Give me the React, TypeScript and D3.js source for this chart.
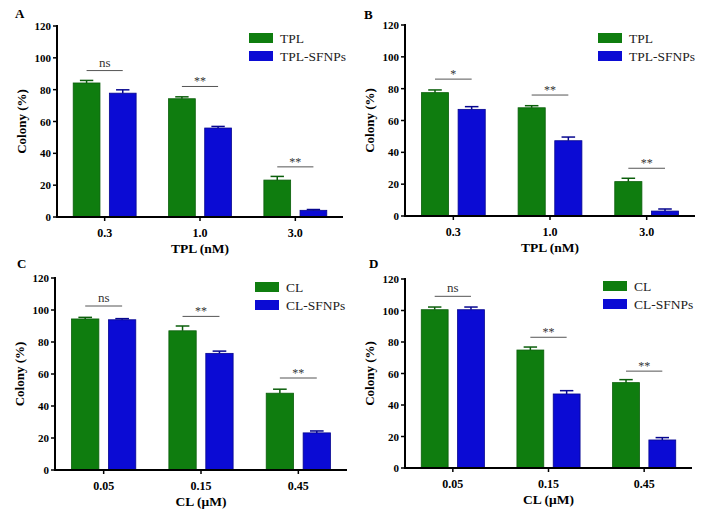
import React from "react";
import * as d3 from "d3";

// categories and series
const tplDoses = ["0.3", "1.0", "3.0"];
const clDoses = ["0.05", "0.15", "0.45"];
const yTicks = [0, 20, 40, 60, 80, 100, 120];

// panel A
const aFree = [84.2, 74.3, 23.2];
const aFreeErr = [1.6, 1.2, 2.3];
const aNano = [77.8, 55.9, 4.2];
const aNanoErr = [2.1, 1.0, 0.5];
const aSig = ["ns", "**", "**"];
const aSigY = [92, 82, 31.5];

// panel B
const bFree = [77.5, 68.0, 21.6];
const bFreeErr = [1.7, 1.3, 2.1];
const bNano = [67.0, 47.3, 3.1];
const bNanoErr = [1.7, 2.3, 1.3];
const bSig = ["*", "**", "**"];
const bSigY = [86, 76, 30];

// panel C
const cFree = [94.4, 87.0, 48.0];
const cFreeErr = [1.0, 3.0, 2.5];
const cNano = [93.9, 72.9, 23.2];
const cNanoErr = [0.7, 1.4, 1.2];
const cSig = ["ns", "**", "**"];
const cSigY = [102.5, 96, 57.5];

// panel D
const dFree = [100.5, 74.9, 54.2];
const dFreeErr = [1.7, 1.9, 1.9];
const dNano = [100.5, 47.0, 17.8];
const dNanoErr = [1.7, 2.1, 1.5];
const dSig = ["ns", "**", "**"];
const dSigY = [109, 83, 61.5];

const GREEN = "#0f7d0f";
const GREEN_DARK = "#0a5e0a";
const BLUE = "#0b0bd4";
const BLUE_DARK = "#06068f";
const FONT = "'Liberation Serif', 'Times New Roman', serif";

type PanelProps = {
  letter: string;
  cats: string[];
  free: number[];
  freeErr: number[];
  nano: number[];
  nanoErr: number[];
  sig: string[];
  sigY: number[];
  names: string[];
  xTitle: string;
  left: number;
  right: number;
  top: number;
  bottom: number;
  legendX: number;
  legendY: number;
  letterX: number;
  letterY: number;
};

const Panel = (props: PanelProps) => {
  const { cats, free, freeErr, nano, nanoErr, sig, sigY, names, left, right, top, bottom } = props;

  const y = d3.scaleLinear().domain([0, 120]).range([bottom, top]);
  const x0 = d3
    .scaleBand<string>()
    .domain(cats)
    .range([left, right])
    .paddingInner(0.34)
    .paddingOuter(0.17);
  const x1 = d3
    .scaleBand<string>()
    .domain(["free", "nano"])
    .range([0, x0.bandwidth()])
    .paddingInner(0.26);

  const series = [
    { key: "free", vals: free, errs: freeErr, fill: GREEN, dark: GREEN_DARK },
    { key: "nano", vals: nano, errs: nanoErr, fill: BLUE, dark: BLUE_DARK },
  ];

  return (
    <g fontFamily={FONT}>
      <text x={props.letterX} y={props.letterY} fontSize={13} fontWeight="bold">
        {props.letter}
      </text>

      {/* bars with upward error bars */}
      {series.map((s) =>
        cats.map((c, i) => {
          const bx = (x0(c) as number) + (x1(s.key) as number);
          const bw = x1.bandwidth();
          const cx = bx + bw / 2;
          const yTop = y(s.vals[i]);
          const yErr = y(s.vals[i] + s.errs[i]);
          return (
            <g key={s.key + c}>
              <rect
                x={bx}
                y={yTop}
                width={bw}
                height={y(0) - yTop}
                fill={s.fill}
                stroke={s.dark}
                strokeWidth={0.8}
              />
              <line x1={cx} x2={cx} y1={yTop} y2={yErr} stroke={s.dark} strokeWidth={1.5} />
              <line x1={cx - bw / 4} x2={cx + bw / 4} y1={yErr} y2={yErr} stroke={s.dark} strokeWidth={1.5} />
            </g>
          );
        })
      )}

      {/* significance markers */}
      {cats.map((c, i) => {
        const gx = x0(c) as number;
        const xa = gx + (x1("free") as number) + x1.bandwidth() / 2;
        const xb = gx + (x1("nano") as number) + x1.bandwidth() / 2;
        const yy = y(sigY[i]);
        return (
          <g key={"sig" + c}>
            <line x1={xa} x2={xb} y1={yy} y2={yy} stroke="#555" strokeWidth={1} />
            <text
              x={(xa + xb) / 2}
              y={sig[i] === "ns" ? yy - 4 : yy - 1}
              textAnchor="middle"
              fontSize={sig[i] === "ns" ? 13 : 12}
              fill="#333"
            >
              {sig[i]}
            </text>
          </g>
        );
      })}

      {/* y axis */}
      <line x1={left} x2={left} y1={top - 1} y2={bottom + 1} stroke="#000" strokeWidth={2} />
      {yTicks.map((t) => (
        <g key={"yt" + t}>
          <line x1={left - 4} x2={left} y1={y(t)} y2={y(t)} stroke="#000" strokeWidth={1.5} />
          <text x={left - 6} y={y(t) + 4} textAnchor="end" fontSize={11} fontWeight="bold">
            {t}
          </text>
        </g>
      ))}
      <text
        transform={`translate(${left - 31},${(top + bottom) / 2}) rotate(-90)`}
        textAnchor="middle"
        fontSize={13}
        fontWeight="bold"
      >
        Colony (%)
      </text>

      {/* x axis */}
      <line x1={left - 1} x2={right} y1={bottom} y2={bottom} stroke="#000" strokeWidth={2} />
      {cats.map((c) => {
        const cx = (x0(c) as number) + x0.bandwidth() / 2;
        return (
          <g key={"xt" + c}>
            <line x1={cx} x2={cx} y1={bottom} y2={bottom + 4} stroke="#000" strokeWidth={1.5} />
            <text x={cx} y={bottom + 20} textAnchor="middle" fontSize={12} fontWeight="bold">
              {c}
            </text>
          </g>
        );
      })}
      <text x={(left + right) / 2} y={bottom + 36} textAnchor="middle" fontSize={13.5} fontWeight="bold">
        {props.xTitle}
      </text>

      {/* legend */}
      {series.map((s, i) => (
        <g key={"lg" + s.key} transform={`translate(${props.legendX},${props.legendY + i * 18})`}>
          <rect x={0} y={0} width={24} height={10} fill={s.fill} />
          <text x={31} y={9.5} fontSize={13.5} fill="#222">
            {names[i]}
          </text>
        </g>
      ))}
    </g>
  );
};

export default function App() {
  return (
    <svg width={704} height={519} style={{ display: "block", margin: "-8px", background: "#fff" }}>
      <rect width={704} height={519} fill="#fff" />
      <Panel
        letter="A"
        cats={tplDoses}
        free={aFree}
        freeErr={aFreeErr}
        nano={aNano}
        nanoErr={aNanoErr}
        sig={aSig}
        sigY={aSigY}
        names={["TPL", "TPL-SFNPs"]}
        xTitle="TPL (nM)"
        left={57}
        right={343}
        top={26}
        bottom={217}
        legendX={249}
        legendY={33}
        letterX={15}
        letterY={18}
      />
      <Panel
        letter="B"
        cats={tplDoses}
        free={bFree}
        freeErr={bFreeErr}
        nano={bNano}
        nanoErr={bNanoErr}
        sig={bSig}
        sigY={bSigY}
        names={["TPL", "TPL-SFNPs"]}
        xTitle="TPL (nM)"
        left={405}
        right={695}
        top={25}
        bottom={216}
        legendX={598}
        legendY={33}
        letterX={364}
        letterY={19}
      />
      <Panel
        letter="C"
        cats={clDoses}
        free={cFree}
        freeErr={cFreeErr}
        nano={cNano}
        nanoErr={cNanoErr}
        sig={cSig}
        sigY={cSigY}
        names={["CL", "CL-SFNPs"]}
        xTitle="CL (μM)"
        left={55}
        right={347}
        top={278}
        bottom={470}
        legendX={255}
        legendY={282}
        letterX={17}
        letterY={268}
      />
      <Panel
        letter="D"
        cats={clDoses}
        free={dFree}
        freeErr={dFreeErr}
        nano={dNano}
        nanoErr={dNanoErr}
        sig={dSig}
        sigY={dSigY}
        names={["CL", "CL-SFNPs"]}
        xTitle="CL (μM)"
        left={405}
        right={692}
        top={279}
        bottom={468}
        legendX={603}
        legendY={281}
        letterX={369}
        letterY={268}
      />
    </svg>
  );
}
